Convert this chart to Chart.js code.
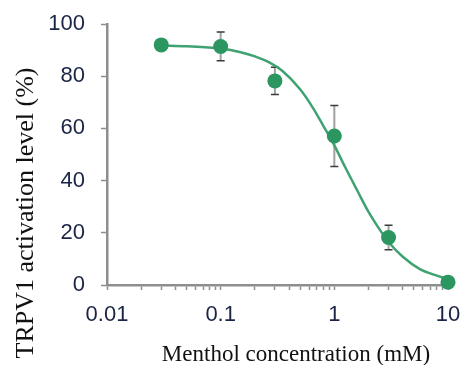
<!DOCTYPE html>
<html>
<head>
<meta charset="utf-8">
<script src="https://cdn.jsdelivr.net/npm/chart.js@4.4.1/dist/chart.umd.min.js"></script>
<style>
  html, body { margin: 0; padding: 0; background: #fff; }
  #wrap { width: 465px; height: 365px; }
</style>
</head>
<body>
<div id="wrap"><canvas id="c" width="465" height="365"></canvas></div>
<script>
// measured points (mM, %)
var concentrations = [0.03, 0.1, 0.3, 1, 3, 10]
var activation = [92, 91.4, 78.2, 57.1, 18.2, 1.1]
var errors = [1.5, 5.5, 5.2, 11.7, 4.7, 0.8]

// fitted curve
var curveX = [0.03, 0.05, 0.1, 0.15, 0.2, 0.27, 0.35, 0.5, 0.65, 0.8, 1, 1.25, 1.6, 2, 2.5, 3, 4, 5.7, 7.5, 10]
var curveY = [91.8, 91.5, 90.6, 89.2, 87.6, 85.2, 82, 75, 67.8, 61, 53.5, 45, 36, 28, 21.3, 16.5, 10.8, 6, 4, 2.2]

var xTickLabels = ['0.01', '0.1', '1', '10']
var yTicks = [0, 20, 40, 60, 80, 100]

var xTitle = 'Menthol concentration (mM)'
var yTitle = 'TRPV1 activation level (%)'

var green = 'rgb(44, 150, 96)'
var curveGreen = 'rgb(62, 163, 112)'
var axisGray = '#8e8e8e'
var tickText = '#1a2444'

function toXY(xs, ys) {
    return xs.map(function (x, i) { return { x: x, y: ys[i] } })
}

// error bars, drawn under the points
var errorBars = {
    id: 'errorBars',
    beforeDatasetsDraw: function (chart) {
        var ctx = chart.ctx
        var xs = chart.scales.x, ys = chart.scales.y
        ctx.save()
        for (var i = 0; i < concentrations.length; i++) {
            var px = xs.getPixelForValue(concentrations[i])
            var top = ys.getPixelForValue(activation[i] + errors[i])
            var bot = ys.getPixelForValue(activation[i] - errors[i])
            ctx.strokeStyle = '#a0a0a0'
            ctx.lineWidth = 2
            ctx.beginPath()
            ctx.moveTo(px, top); ctx.lineTo(px, bot)
            ctx.stroke()
            ctx.strokeStyle = '#3a3a3a'
            ctx.lineWidth = 1.5
            ctx.beginPath()
            ctx.moveTo(px - 4, top); ctx.lineTo(px + 4, top)
            ctx.moveTo(px - 4, bot); ctx.lineTo(px + 4, bot)
            ctx.stroke()
        }
        ctx.restore()
    }
}

// axis titles placed like in the original figure
var axisTitles = {
    id: 'axisTitles',
    afterDraw: function (chart) {
        var ctx = chart.ctx
        ctx.save()
        ctx.fillStyle = '#111'
        ctx.font = '23px "Liberation Serif", "Times New Roman", serif'
        ctx.textAlign = 'center'
        ctx.textBaseline = 'alphabetic'
        ctx.fillText(xTitle, 296, 361)
        ctx.translate(33, 213)
        ctx.rotate(-Math.PI / 2)
        ctx.font = '26px "Liberation Serif", "Times New Roman", serif'
        ctx.fillText(yTitle, 0, 0)
        ctx.restore()
    }
}

new Chart(document.getElementById('c').getContext('2d'), {
    type: 'scatter',
    data: {
        datasets: [{
            label: 'measured',
            data: toXY(concentrations, activation),
            backgroundColor: green,
            borderColor: green,
            pointRadius: 7.5,
            pointHoverRadius: 7.5,
            borderWidth: 0,
            clip: false,
            order: 0
        }, {
            label: 'fit',
            data: toXY(curveX, curveY),
            showLine: true,
            borderColor: curveGreen,
            borderWidth: 2.5,
            pointRadius: 0,
            cubicInterpolationMode: 'monotone',
            clip: false,
            order: 1
        }]
    },
    options: {
        responsive: false,
        animation: false,
        events: [],
        layout: { padding: { left: 0, top: 24, right: 17, bottom: 0 } },
        plugins: { legend: { display: false }, tooltip: { enabled: false } },
        scales: {
            x: {
                type: 'logarithmic',
                min: 0.01,
                max: 10,
                afterFit: function (s) {
                    s.height = 80
                    s.paddingLeft = 0
                    s.paddingRight = 0
                },
                afterBuildTicks: function (s) {
                    var t = []
                    for (var d = -2; d <= 0; d++) {
                        for (var m = 1; m <= 9; m++) t.push({ value: m * Math.pow(10, d) })
                    }
                    t.push({ value: 10 })
                    s.ticks = t
                },
                grid: { drawOnChartArea: false, drawTicks: true, tickLength: 5, tickColor: axisGray, tickWidth: 1.5 },
                border: { color: axisGray, width: 2.5 },
                ticks: {
                    autoSkip: false,
                    maxRotation: 0,
                    padding: 12,
                    color: tickText,
                    font: { family: '"Liberation Sans", Arial, sans-serif', size: 22 },
                    callback: function (v) {
                        var e = Math.log10(v)
                        if (Math.abs(e - Math.round(e)) < 1e-9) return xTickLabels[Math.round(e) + 2]
                        return ''
                    }
                }
            },
            y: {
                min: 0,
                max: 100,
                afterFit: function (s) {
                    s.width = 107
                    s.paddingTop = 0
                    s.paddingBottom = 0
                },
                afterBuildTicks: function (s) {
                    s.ticks = yTicks.map(function (v) { return { value: v } })
                },
                grid: { drawOnChartArea: false, drawTicks: true, tickLength: 6, tickColor: axisGray, tickWidth: 1.5 },
                border: { color: axisGray, width: 2.5 },
                ticks: {
                    padding: 16,
                    color: tickText,
                    font: { family: '"Liberation Sans", Arial, sans-serif', size: 22 }
                }
            }
        }
    },
    plugins: [errorBars, axisTitles]
})
</script>
</body>
</html>
